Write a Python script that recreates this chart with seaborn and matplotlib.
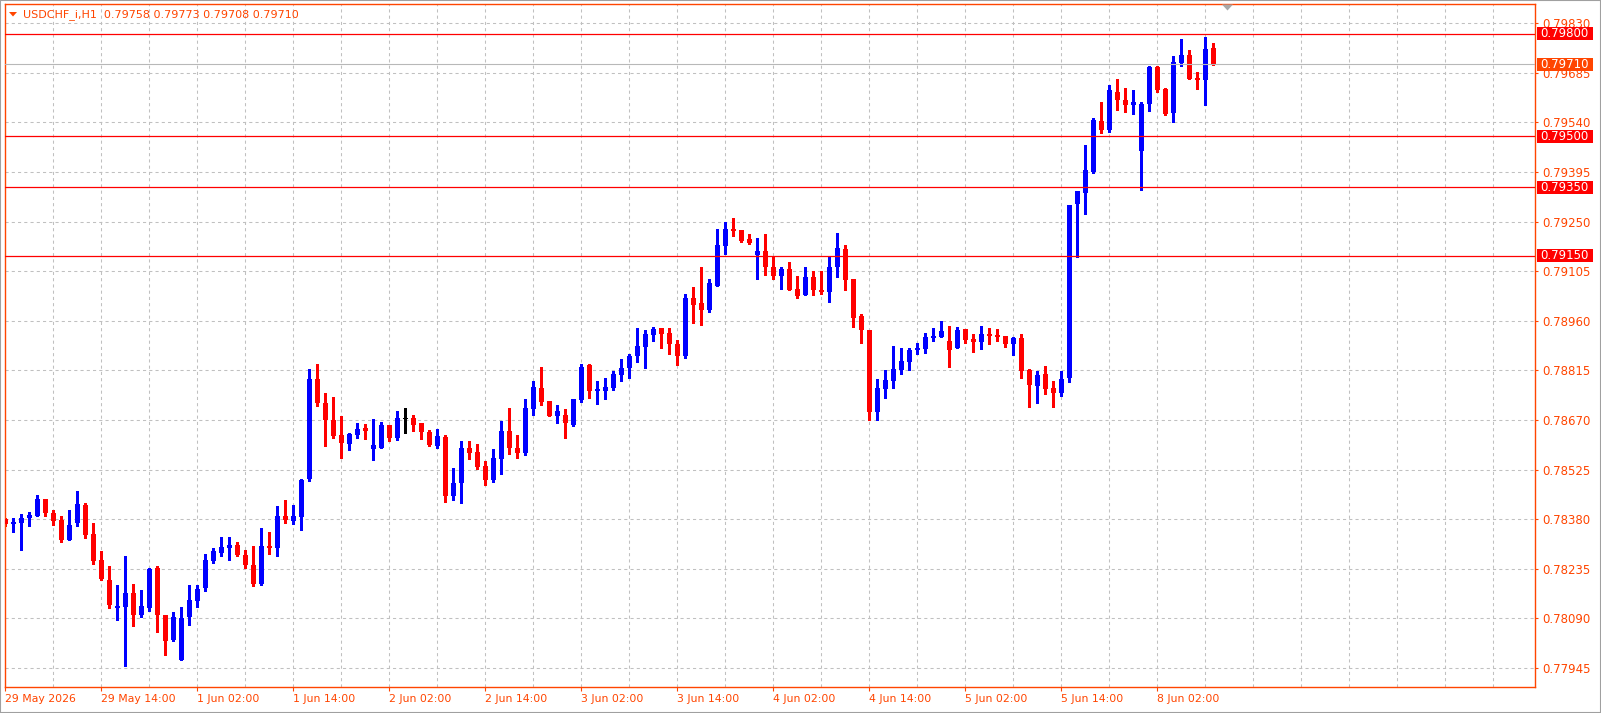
import matplotlib
matplotlib.use("Agg")
import numpy as np
import pandas as pd
import matplotlib.pyplot as plt
import matplotlib.transforms as mtransforms
from matplotlib.patches import Rectangle, Polygon
import seaborn as sns

# ---------------- data ----------------
title_text = "USDCHF_i,H1  0.79758 0.79773 0.79708 0.79710"

opens = [0.78380, 0.78367, 0.78370, 0.78385, 0.78391, 0.78439, 0.78398, 0.78378, 0.78318, 0.78370,
         0.78422, 0.78338, 0.78261, 0.78203, 0.78122, 0.78125, 0.78165, 0.78099, 0.78122, 0.78238,
         0.78100, 0.78028, 0.77970, 0.78093, 0.78142, 0.78178, 0.78259, 0.78282, 0.78297, 0.78305,
         0.78275, 0.78246, 0.78191, 0.78302, 0.78296, 0.78389, 0.78375, 0.78386, 0.78497, 0.78790,
         0.78720, 0.78670, 0.78626, 0.78600, 0.78626, 0.78647, 0.78585, 0.78588, 0.78655, 0.78617,
         0.78672, 0.78676, 0.78661, 0.78635, 0.78594, 0.78620, 0.78449, 0.78486, 0.78588, 0.78576,
         0.78535, 0.78496, 0.78557, 0.78638, 0.78588, 0.78574, 0.78703, 0.78763, 0.78725, 0.78683,
         0.78684, 0.78655, 0.78728, 0.78831, 0.78756, 0.78756, 0.78763, 0.78802, 0.78822, 0.78857,
         0.78883, 0.78918, 0.78939, 0.78924, 0.78892, 0.78857, 0.79026, 0.79011, 0.78991, 0.79061,
         0.79178, 0.79228, 0.79225, 0.79198, 0.79152, 0.79163, 0.79119, 0.79090, 0.79111, 0.79052,
         0.79035, 0.79087, 0.79049, 0.79044, 0.79119, 0.79169, 0.79081, 0.78973, 0.78932, 0.78693,
         0.78762, 0.78785, 0.78817, 0.78840, 0.78874, 0.78878, 0.78910, 0.78912, 0.78900, 0.78881,
         0.78935, 0.78906, 0.78898, 0.78923, 0.78920, 0.78915, 0.78892, 0.78909, 0.78817, 0.78770,
         0.78804, 0.78764, 0.78750, 0.78793, 0.79302, 0.79334, 0.79396, 0.79544, 0.79518, 0.79628,
         0.79607, 0.79591, 0.79457, 0.79594, 0.79701, 0.79639, 0.79568, 0.79715, 0.79738, 0.79671,
         0.79664, 0.79758]
highs = [0.78383, 0.78383, 0.78396, 0.78401, 0.78451, 0.78439, 0.78407, 0.78390, 0.78407, 0.78463,
         0.78429, 0.78370, 0.78286, 0.78242, 0.78188, 0.78273, 0.78191, 0.78174, 0.78237, 0.78244,
         0.78100, 0.78109, 0.78124, 0.78188, 0.78188, 0.78278, 0.78296, 0.78328, 0.78328, 0.78313,
         0.78290, 0.78302, 0.78354, 0.78343, 0.78419, 0.78436, 0.78422, 0.78497, 0.78819, 0.78834,
         0.78749, 0.78737, 0.78682, 0.78632, 0.78661, 0.78658, 0.78673, 0.78664, 0.78655, 0.78696,
         0.78705, 0.78684, 0.78661, 0.78641, 0.78644, 0.78626, 0.78531, 0.78609, 0.78609, 0.78600,
         0.78550, 0.78585, 0.78667, 0.78705, 0.78626, 0.78731, 0.78784, 0.78825, 0.78725, 0.78714,
         0.78702, 0.78731, 0.78834, 0.78834, 0.78784, 0.78793, 0.78813, 0.78848, 0.78863, 0.78939,
         0.78933, 0.78942, 0.78939, 0.78939, 0.78904, 0.79038, 0.79058, 0.79119, 0.79082, 0.79228,
         0.79248, 0.79260, 0.79225, 0.79213, 0.79201, 0.79213, 0.79149, 0.79117, 0.79131, 0.79090,
         0.79119, 0.79105, 0.79105, 0.79146, 0.79216, 0.79181, 0.79081, 0.78979, 0.78932, 0.78789,
         0.78816, 0.78888, 0.78880, 0.78880, 0.78894, 0.78926, 0.78938, 0.78961, 0.78944, 0.78941,
         0.78935, 0.78923, 0.78946, 0.78938, 0.78935, 0.78915, 0.78912, 0.78923, 0.78820, 0.78813,
         0.78828, 0.78784, 0.78813, 0.79299, 0.79339, 0.79473, 0.79552, 0.79599, 0.79651, 0.79668,
         0.79642, 0.79636, 0.79601, 0.79706, 0.79706, 0.79642, 0.79733, 0.79784, 0.79753, 0.79689,
         0.79790, 0.79773]
lows = [0.78359, 0.78344, 0.78291, 0.78359, 0.78391, 0.78391, 0.78364, 0.78315, 0.78318, 0.78359,
        0.78326, 0.78250, 0.78202, 0.78122, 0.78087, 0.77950, 0.78069, 0.78093, 0.78113, 0.78050,
        0.77982, 0.78025, 0.77970, 0.78072, 0.78125, 0.78170, 0.78253, 0.78272, 0.78261, 0.78272,
        0.78237, 0.78185, 0.78188, 0.78278, 0.78272, 0.78369, 0.78366, 0.78348, 0.78492, 0.78711,
        0.78594, 0.78617, 0.78559, 0.78582, 0.78617, 0.78614, 0.78553, 0.78588, 0.78608, 0.78611,
        0.78632, 0.78638, 0.78614, 0.78594, 0.78588, 0.78431, 0.78437, 0.78428, 0.78557, 0.78528,
        0.78481, 0.78490, 0.78513, 0.78571, 0.78560, 0.78569, 0.78685, 0.78715, 0.78683, 0.78662,
        0.78618, 0.78652, 0.78722, 0.78735, 0.78717, 0.78731, 0.78758, 0.78784, 0.78794, 0.78839,
        0.78822, 0.78901, 0.78880, 0.78863, 0.78831, 0.78852, 0.78953, 0.78947, 0.78985, 0.79061,
        0.79155, 0.79207, 0.79190, 0.79184, 0.79081, 0.79093, 0.79081, 0.79052, 0.79049, 0.79026,
        0.79035, 0.79035, 0.79038, 0.79014, 0.79087, 0.79049, 0.78941, 0.78894, 0.78669, 0.78669,
        0.78735, 0.78765, 0.78804, 0.78816, 0.78862, 0.78866, 0.78900, 0.78912, 0.78826, 0.78881,
        0.78895, 0.78869, 0.78878, 0.78892, 0.78901, 0.78884, 0.78860, 0.78794, 0.78707, 0.78721,
        0.78747, 0.78707, 0.78741, 0.78781, 0.79148, 0.79273, 0.79393, 0.79508, 0.79512, 0.79576,
        0.79570, 0.79565, 0.79343, 0.79573, 0.79629, 0.79562, 0.79541, 0.79706, 0.79667, 0.79637,
        0.79591, 0.79708]
closes = [0.78367, 0.78372, 0.78384, 0.78393, 0.78439, 0.78397, 0.78376, 0.78318, 0.78363, 0.78425,
          0.78335, 0.78259, 0.78204, 0.78128, 0.78127, 0.78165, 0.78099, 0.78127, 0.78235, 0.78099,
          0.78023, 0.78095, 0.78092, 0.78144, 0.78176, 0.78261, 0.78287, 0.78299, 0.78305, 0.78275,
          0.78246, 0.78191, 0.78302, 0.78296, 0.78389, 0.78378, 0.78389, 0.78495, 0.78790, 0.78720,
          0.78670, 0.78623, 0.78603, 0.78629, 0.78644, 0.78638, 0.78597, 0.78655, 0.78617, 0.78676,
          0.78672, 0.78655, 0.78635, 0.78597, 0.78623, 0.78449, 0.78486, 0.78588, 0.78574, 0.78534,
          0.78496, 0.78559, 0.78638, 0.78589, 0.78574, 0.78705, 0.78766, 0.78723, 0.78683, 0.78696,
          0.78662, 0.78731, 0.78825, 0.78756, 0.78760, 0.78766, 0.78804, 0.78822, 0.78857, 0.78886,
          0.78921, 0.78936, 0.78921, 0.78892, 0.78857, 0.79026, 0.79006, 0.78991, 0.79070, 0.79181,
          0.79228, 0.79222, 0.79195, 0.79187, 0.79163, 0.79119, 0.79090, 0.79111, 0.79049, 0.79032,
          0.79087, 0.79049, 0.79044, 0.79119, 0.79172, 0.79079, 0.78968, 0.78932, 0.78693, 0.78763,
          0.78787, 0.78819, 0.78842, 0.78874, 0.78880, 0.78912, 0.78917, 0.78929, 0.78875, 0.78932,
          0.78904, 0.78898, 0.78923, 0.78916, 0.78913, 0.78892, 0.78909, 0.78814, 0.78773, 0.78801,
          0.78762, 0.78750, 0.78790, 0.79299, 0.79339, 0.79400, 0.79546, 0.79518, 0.79634, 0.79605,
          0.79591, 0.79599, 0.79594, 0.79701, 0.79634, 0.79565, 0.79718, 0.79738, 0.79667, 0.79664,
          0.79756, 0.79710]

time_labels = ["29 May 2026", "29 May 14:00", "1 Jun 02:00", "1 Jun 14:00", "2 Jun 02:00",
               "2 Jun 14:00", "3 Jun 02:00", "3 Jun 14:00", "4 Jun 02:00", "4 Jun 14:00",
               "5 Jun 02:00", "5 Jun 14:00", "8 Jun 02:00"]
price_ticks = [0.77945, 0.78090, 0.78235, 0.78380, 0.78525, 0.78670, 0.78815,
               0.78960, 0.79105, 0.79250, 0.79395, 0.79540, 0.79685, 0.79830]
level_prices = [0.79800, 0.79500, 0.79350, 0.79150]
bid_price = 0.79710

# ---------------- style ----------------
sns.set_theme(style="white")
plt.rcParams["font.family"] = ["DejaVu Sans"]
ORANGE = "#FF4500"
BULL = "#0000FF"
BEAR = "#FF0000"
GRID = "#C0C0C0"
FS_X = 7.8
FS_Y = 8.5
FS_T = 8.0

df = pd.DataFrame({"open": opens, "high": highs, "low": lows, "close": closes})
df["x"] = np.arange(len(df))
df["color"] = np.where(df.close > df.open, BULL, np.where(df.close < df.open, BEAR, "#000000"))

W, H = 1601, 713
fig = plt.figure(figsize=(W / 100, H / 100), dpi=100)
fig.patch.set_facecolor("white")
L, R, T, B = 4.5, 1535, 4, 687
ax = fig.add_axes([L / W, (H - B) / H, (R - L) / W, (B - T) / H])
ax.set_facecolor("white")

ax.set_xlim(-0.1, 191.2)
ax.set_ylim(0.778897, 0.798864)

# grid
for gx in range(6, 191, 6):
    ax.axvline(gx, color=GRID, lw=0.75, ls=(0, (3, 3)), zorder=0.5)
for gy in price_ticks:
    ax.axhline(gy, color=GRID, lw=0.75, ls=(0, (3, 3)), zorder=0.5)

# candles
ax.vlines(df.x, df.low, df.high, colors=df.color, lw=0.8, zorder=2, antialiased=False)
body_h = np.maximum((df.close - df.open).abs(), 0.00003)
ax.bar(df.x, body_h, bottom=np.minimum(df.open, df.close), width=0.66,
       color=df.color, linewidth=0, zorder=3, antialiased=False)

# bid line and level lines
ax.axhline(bid_price, color="#B8B8B8", lw=0.8, zorder=4)
for p in level_prices:
    ax.axhline(p, color="#FF0000", lw=0.9, zorder=5)

# spines
for s in ax.spines.values():
    s.set_color(ORANGE)
    s.set_linewidth(1.0)
    s.set_visible(True)

# ticks
ax.yaxis.tick_right()
ax.set_yticks(price_ticks)
ax.set_yticklabels([f"{v:.5f}" for v in price_ticks])
ax.tick_params(axis="y", which="major", right=True, left=False, length=2.5, width=0.8,
               color=ORANGE, labelcolor=ORANGE, labelsize=FS_Y, pad=3)
ax.set_xticks(np.arange(0, 12 * len(time_labels), 12))
ax.set_xticklabels(time_labels, ha="left")
ax.tick_params(axis="x", which="major", bottom=True, length=3, width=0.8,
               color=ORANGE, labelcolor=ORANGE, labelsize=FS_X, pad=2)
ax.grid(False)

# price boxes on the right scale
trans = mtransforms.blended_transform_factory(ax.transAxes, ax.transData)
box_x0 = (1536.7 - L) / (R - L)
box_w = 56 / (R - L)
box_h = 13 / 34207
for p, fc in [(v, "#FF0000") for v in level_prices] + [(bid_price, ORANGE)]:
    ax.add_patch(Rectangle((box_x0, p - box_h / 2), box_w, box_h, transform=trans,
                           facecolor=fc, edgecolor="none", clip_on=False, zorder=10))
    ax.text(box_x0 + box_w / 2, p, f"{p:.5f}", transform=trans, ha="center", va="center",
            color="white", fontsize=FS_Y, clip_on=False, zorder=11)

# title with down triangle
fig.text(23 / W, 1 - 14.5 / H, title_text, color=ORANGE, fontsize=FS_T, ha="left", va="center")
fig.patches.append(Polygon([(9 / W, 1 - 12 / H), (17 / W, 1 - 12 / H), (13 / W, 1 - 16.5 / H)],
                           closed=True, transform=fig.transFigure, facecolor=ORANGE,
                           edgecolor="none", figure=fig))
# chart-shift marker
fig.patches.append(Polygon([(1222 / W, 1 - 4.5 / H), (1233 / W, 1 - 4.5 / H), (1227.5 / W, 1 - 10.5 / H)],
                           closed=True, transform=fig.transFigure, facecolor="#A8A8A8",
                           edgecolor="none", figure=fig))
# window frame
fig.patches.append(Rectangle((0, 0), 1, 1, transform=fig.transFigure, fill=False,
                             edgecolor="#A0A0A0", linewidth=1.5, figure=fig))

fig.savefig("out.png", dpi=100, facecolor="white")
